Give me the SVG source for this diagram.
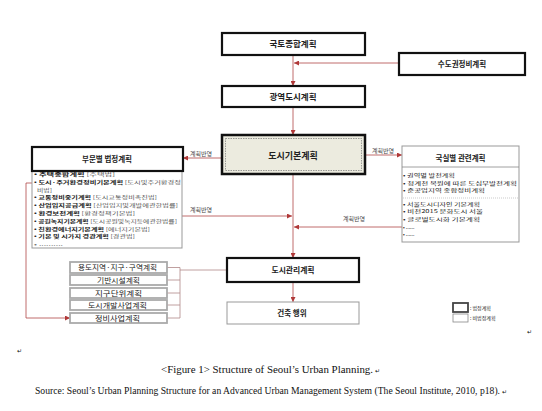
<svg xmlns="http://www.w3.org/2000/svg" width="542" height="411" viewBox="0 0 542 411">
<style>
.k{font-family:"Noto Sans CJK KR","Noto Sans",sans-serif;fill:#222}
.b{font-weight:bold}
.t{font-family:"Liberation Serif","Times New Roman",serif;fill:#111}
.thick{fill:#fff;stroke:#111;stroke-width:2.2}
.thin{fill:#fff;stroke:#999;stroke-width:1}
.sb{fill:#fff;stroke:#aaa;stroke-width:1.8}
.c{fill:none;stroke:#b04848;stroke-width:0.8}
.g{fill:none;stroke:#b08888;stroke-width:0.8}
.lbl{font-size:6px;fill:#444}
.li{font-size:5.1px}
</style>
<defs>
<marker id="ah" viewBox="0 0 10 10" refX="10" refY="5" markerWidth="5" markerHeight="5" orient="auto" markerUnits="userSpaceOnUse"><path d="M0,0 L10,5 L0,10 z" fill="#b03838"/></marker>
</defs>
<rect width="542" height="411" fill="#fff"/>

<g id="connectors">
<line class="c" x1="293" y1="55" x2="293" y2="86" marker-end="url(#ah)"/>
<line class="c" x1="399" y1="63" x2="294" y2="63" marker-end="url(#ah)"/>
<line class="c" x1="293" y1="107" x2="293" y2="135" marker-end="url(#ah)"/>
<line class="c" x1="222" y1="158" x2="183" y2="158" marker-end="url(#ah)"/>
<text class="k lbl" x="190" y="156">계획반영</text>
<line class="c" x1="365" y1="155" x2="402" y2="155" marker-end="url(#ah)"/>
<text class="k lbl" x="372" y="153">계획반영</text>
<line class="c" x1="182" y1="216" x2="292" y2="216" marker-end="url(#ah)"/>
<text class="k lbl" x="190" y="212">계획반영</text>
<line class="c" x1="402" y1="227" x2="294" y2="227" marker-end="url(#ah)"/>
<text class="k lbl" x="343" y="221">계획반영</text>
<line class="c" x1="293" y1="174" x2="293" y2="258" marker-end="url(#ah)"/>
<line class="c" x1="293" y1="282" x2="293" y2="302" marker-end="url(#ah)"/>
<polyline class="c" points="32,183 26,183 26,318 70,318" marker-end="url(#ah)"/>
<path class="g" d="M167,267.5H180M167,280H180M167,293H180M167,305H180M167,318H180M180,267.5V318M180,270H227"/>
</g>

<g id="n-gukto">
<rect class="thick" x="222" y="33" width="143" height="22"/>
<text class="k b" x="293" y="47" font-size="8.5" text-anchor="middle">국토종합계획</text>
</g>
<g id="n-sudo">
<rect class="thick" x="399" y="53" width="126" height="22"/>
<text class="k b" x="462" y="66.5" font-size="7.5" text-anchor="middle">수도권정비계획</text>
</g>
<g id="n-gwangyeok">
<rect class="thick" x="222" y="86" width="143" height="21"/>
<text class="k b" x="293" y="100" font-size="8.5" text-anchor="middle">광역도시계획</text>
</g>
<g id="n-gibon">
<rect x="222" y="135" width="143" height="39" fill="#ecebdf" stroke="#111" stroke-width="2.5"/>
<rect x="225.5" y="138.5" width="136" height="32" fill="none" stroke="#777" stroke-width="0.7" stroke-dasharray="1.5,1"/>
<text class="k b" x="293" y="158.5" font-size="9" text-anchor="middle">도시기본계획</text>
</g>

<g id="n-bumun">
<rect class="thin" x="32" y="171" width="150" height="77" stroke="#888"/>
<rect class="thick" x="32" y="147" width="151" height="24"/>
<text class="k b" x="107" y="162" font-size="7.5" text-anchor="middle">부문별 법정계획</text>
<g class="k li">
<text x="34" y="176" textLength="81" lengthAdjust="spacingAndGlyphs"><tspan class="b">• 주택종합계획</tspan> <tspan fill="#555">[주택법]</tspan></text>
<text x="34" y="183.8" textLength="147" lengthAdjust="spacingAndGlyphs"><tspan class="b">• 도시·주거환경정비기본계획</tspan> <tspan fill="#555">[도시및주거환경정</tspan></text>
<text x="37" y="191.6" fill="#555" textLength="15" lengthAdjust="spacingAndGlyphs">비법]</text>
<text x="34" y="199.4" textLength="123" lengthAdjust="spacingAndGlyphs"><tspan class="b">• 교통정비중기계획</tspan> <tspan fill="#555">[도시교통정비촉진법]</tspan></text>
<text x="34" y="207.2" textLength="144" lengthAdjust="spacingAndGlyphs"><tspan class="b">• 산업입지공급계획</tspan> <tspan fill="#555">[산업입지및개발에관한법률]</tspan></text>
<text x="34" y="215" textLength="101" lengthAdjust="spacingAndGlyphs"><tspan class="b">• 환경보전계획</tspan> <tspan fill="#555">[환경정책기본법]</tspan></text>
<text x="34" y="222.8" textLength="143" lengthAdjust="spacingAndGlyphs"><tspan class="b">• 공원녹지기본계획</tspan> <tspan fill="#555">[도시공원및녹지등에관한법률]</tspan></text>
<text x="34" y="230.6" textLength="116" lengthAdjust="spacingAndGlyphs"><tspan class="b">• 친환경에너지기본계획</tspan> <tspan fill="#555">[에너지기본법]</tspan></text>
<text x="34" y="238.4" textLength="101" lengthAdjust="spacingAndGlyphs"><tspan class="b">• 기본 및 시가지 경관계획</tspan> <tspan fill="#555">[경관법]</tspan></text>
<text x="34" y="246.2" fill="#777" textLength="29" lengthAdjust="spacingAndGlyphs">• ..........</text>
</g>
</g>

<g id="n-guksil">
<rect class="thin" x="402" y="146" width="117" height="96" stroke="#888"/>
<line x1="402" y1="167" x2="519" y2="167" stroke="#888" stroke-width="0.8"/>
<text class="k b" x="460.5" y="161" font-size="7.5" text-anchor="middle">국실별 관련계획</text>
<g class="k li" fill="#444">
<text x="403" y="177" textLength="52" lengthAdjust="spacingAndGlyphs">• 권역별 발전계획</text>
<text x="403" y="184.6" textLength="114" lengthAdjust="spacingAndGlyphs">• 청계천 복원에 따른 도심부발전계획</text>
<text x="403" y="192.2" textLength="82" lengthAdjust="spacingAndGlyphs">• 준공업지역 종합정비계획</text>
<line x1="403" y1="198" x2="518" y2="198" stroke="#aaa" stroke-width="0.6" stroke-dasharray="1,1"/>
<text x="403" y="205.5" textLength="77" lengthAdjust="spacingAndGlyphs">• 서울도시디자인 기본계획</text>
<text x="403" y="213.2" textLength="80" lengthAdjust="spacingAndGlyphs">• 비전2015 문화도시 서울</text>
<text x="403" y="220.9" textLength="77" lengthAdjust="spacingAndGlyphs">• 글로벌도시화 기본계획</text>
<text x="403" y="228.6">• ......</text>
<text x="403" y="236.3">• ......</text>
</g>
</g>

<g id="n-gwanri">
<rect class="thick" x="227" y="258" width="132" height="24"/>
<text class="k b" x="293" y="273" font-size="7.8" text-anchor="middle">도시관리계획</text>
</g>
<g id="n-geonchuk">
<rect class="thin" x="227" y="302" width="132" height="22"/>
<text class="k b" x="292" y="316" font-size="7.5" text-anchor="middle">건축 행위</text>
</g>

<g id="n-yongdo"><rect class="sb" x="70" y="262" width="97" height="11"/><text class="k" x="78" y="270" font-size="6.5" fill="#444" textLength="79" lengthAdjust="spacingAndGlyphs">용도지역·지구·구역계획</text></g>
<g id="n-giban"><rect class="sb" x="70" y="275" width="97" height="10"/><text class="k" x="97" y="282.5" font-size="6.5" fill="#444" textLength="43" lengthAdjust="spacingAndGlyphs">기반시설계획</text></g>
<g id="n-jigu"><rect class="sb" x="70" y="288" width="97" height="10"/><text class="k" x="95" y="295.5" font-size="6.5" fill="#444" textLength="47" lengthAdjust="spacingAndGlyphs">지구단위계획</text></g>
<g id="n-gaebal"><rect class="sb" x="70" y="300" width="97" height="10"/><text class="k" x="88" y="307.5" font-size="6.5" fill="#444" textLength="59" lengthAdjust="spacingAndGlyphs">도시개발사업계획</text></g>
<g id="n-jeongbi"><rect class="sb" x="70" y="313" width="97" height="10"/><text class="k" x="95" y="320.5" font-size="6.5" fill="#444" textLength="45" lengthAdjust="spacingAndGlyphs">정비사업계획</text></g>

<g id="legend">
<rect x="453" y="303" width="15" height="9" fill="#fff" stroke="#444" stroke-width="1.8"/>
<rect x="453" y="314" width="15" height="8" fill="#fff" stroke="#888" stroke-width="0.8"/>
<text class="k" x="470" y="310" font-size="5" fill="#555">: 법정계획</text>
<text class="k" x="470" y="320" font-size="5" fill="#555">: 비법정계획</text>
</g>

<text class="t" x="527" y="334" font-size="6" fill="#666">↵</text>
<text class="t" x="17" y="353" font-size="6" fill="#666">↵</text>
<text class="t" x="161" y="373" font-size="10.3" textLength="212" lengthAdjust="spacingAndGlyphs">&lt;Figure 1&gt; Structure of Seoul’s Urban Planning.</text>
<text class="t" x="375" y="373" font-size="6" fill="#666">↵</text>
<text class="t" x="35" y="394" font-size="9.5" textLength="465" lengthAdjust="spacingAndGlyphs">Source: Seoul’s Urban Planning Structure for an Advanced Urban Management System (The Seoul Institute, 2010, p18).</text>
<text class="t" x="502" y="394" font-size="6" fill="#666">↵</text>
</svg>
